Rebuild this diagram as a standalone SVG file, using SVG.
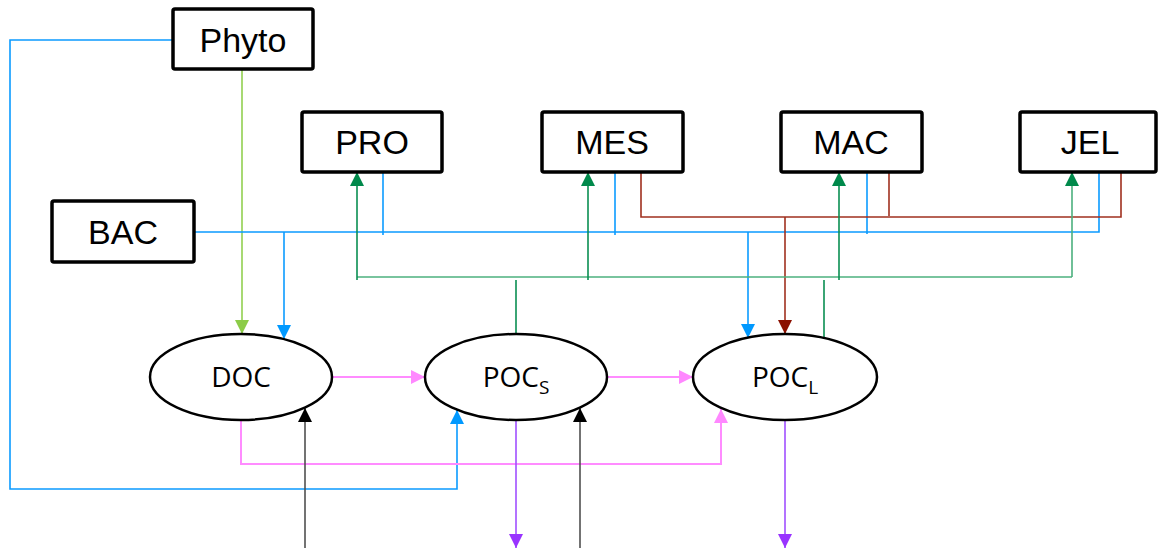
<svg xmlns="http://www.w3.org/2000/svg" width="1158" height="548" viewBox="0 0 1158 548">
<style>
.box{fill:#fff;stroke:#000;stroke-width:3.5}
.ell{fill:#fff;stroke:#000;stroke-width:2.5}
.bt{font-family:"Liberation Sans",Arial,sans-serif;font-size:34px;fill:#000;text-anchor:middle}
.et{font-family:"Open Sans","Noto Sans",sans-serif;font-size:28px;fill:#000;text-anchor:middle}
.c{fill:none;stroke-width:1.6}
.blue{stroke:#0B9BFF}
.lgreen{stroke:#92D050}
.green{stroke:#0A8F52}
.lgr{stroke:#4CB07E}
.red{stroke:#A0301F}
.pink{stroke:#FF8CFF;stroke-width:2}
.purple{stroke:#A050FF}
.black{stroke:#505050}
</style>
<defs>
<marker id="aBlue" markerUnits="userSpaceOnUse" markerWidth="14" markerHeight="14" viewBox="0 0 14 14" refX="14" refY="7" orient="auto"><path d="M0,0 L14,7 L0,14 Z" fill="#0099FF"/></marker>
<marker id="aLgreen" markerUnits="userSpaceOnUse" markerWidth="14" markerHeight="14" viewBox="0 0 14 14" refX="14" refY="7" orient="auto"><path d="M0,0 L14,7 L0,14 Z" fill="#8CCC48"/></marker>
<marker id="aGreen" markerUnits="userSpaceOnUse" markerWidth="14" markerHeight="14" viewBox="0 0 14 14" refX="14" refY="7" orient="auto"><path d="M0,0 L14,7 L0,14 Z" fill="#00894B"/></marker>
<marker id="aRed" markerUnits="userSpaceOnUse" markerWidth="14" markerHeight="14" viewBox="0 0 14 14" refX="14" refY="7" orient="auto"><path d="M0,0 L14,7 L0,14 Z" fill="#8B1000"/></marker>
<marker id="aPink" markerUnits="userSpaceOnUse" markerWidth="14" markerHeight="14" viewBox="0 0 14 14" refX="14" refY="7" orient="auto"><path d="M0,0 L14,7 L0,14 Z" fill="#FF88FF"/></marker>
<marker id="aPurple" markerUnits="userSpaceOnUse" markerWidth="14" markerHeight="14" viewBox="0 0 14 14" refX="14" refY="7" orient="auto"><path d="M0,0 L14,7 L0,14 Z" fill="#9933FF"/></marker>
<marker id="aBlack" markerUnits="userSpaceOnUse" markerWidth="14" markerHeight="14" viewBox="0 0 14 14" refX="14" refY="7" orient="auto"><path d="M0,0 L14,7 L0,14 Z" fill="#000"/></marker>
</defs>

<g id="connectors">
<path class="c lgreen" d="M242,69 V334" marker-end="url(#aLgreen)"/>
<path class="c blue" d="M173,40 H10 V489 H457 V410" marker-end="url(#aBlue)"/>
<path class="c blue" d="M194,232 H1099 V172"/>
<path class="c blue" d="M383,172 V235"/>
<path class="c blue" d="M615,172 V235"/>
<path class="c blue" d="M867,172 V234"/>
<path class="c blue" d="M284,232 V339" marker-end="url(#aBlue)"/>
<path class="c blue" d="M748,232 V338" marker-end="url(#aBlue)"/>
<path class="c red" d="M641,172 V217 H1121 V172"/>
<path class="c red" d="M889,172 V216"/>
<path class="c red" d="M785,217 V334" marker-end="url(#aRed)"/>
<path class="c lgr" d="M357,277 H1072"/>
<path class="c green" d="M357,280 V172" marker-end="url(#aGreen)"/>
<path class="c green" d="M588,280 V172" marker-end="url(#aGreen)"/>
<path class="c green" d="M839,280 V172" marker-end="url(#aGreen)"/>
<path class="c lgr" d="M1072,277 V180"/>
<path class="c green" d="M1072,185 V172" marker-end="url(#aGreen)"/>
<path class="c green" d="M516,280 V334"/>
<path class="c green" d="M824,280 V339"/>
<path class="c pink" d="M333,377 H425" marker-end="url(#aPink)"/>
<path class="c pink" d="M608,377 H693" marker-end="url(#aPink)"/>
<path class="c pink" d="M241,420 V464 H721 V409" marker-end="url(#aPink)"/>
<path class="c black" d="M305,548 V408" marker-end="url(#aBlack)"/>
<path class="c black" d="M580,548 V408" marker-end="url(#aBlack)"/>
<path class="c purple" d="M516,420 V548" marker-end="url(#aPurple)"/>
<path class="c purple" d="M785,420 V548" marker-end="url(#aPurple)"/>
</g>

<g id="Phyto"><rect class="box" x="173" y="9" width="140" height="60" rx="2"/><text class="bt" x="243" y="52">Phyto</text></g>
<g id="PRO"><rect class="box" x="302" y="112" width="140" height="60" rx="2"/><text class="bt" x="372" y="154">PRO</text></g>
<g id="MES"><rect class="box" x="542" y="112" width="141" height="60" rx="2"/><text class="bt" x="612" y="154">MES</text></g>
<g id="MAC"><rect class="box" x="781" y="112" width="141" height="60" rx="2"/><text class="bt" x="851" y="154">MAC</text></g>
<g id="JEL"><rect class="box" x="1020" y="112" width="136" height="60" rx="2"/><text class="bt" x="1090" y="154">JEL</text></g>
<g id="BAC"><rect class="box" x="52" y="201" width="142" height="61" rx="2"/><text class="bt" x="123" y="244">BAC</text></g>

<g id="DOC"><ellipse class="ell" cx="241" cy="377" rx="91" ry="43"/><text class="et" x="241" y="387">DOC</text></g>
<g id="POC_S"><ellipse class="ell" cx="516" cy="377" rx="91" ry="43"/><text class="et" x="516" y="387">POC<tspan font-size="19" dy="7">S</tspan></text></g>
<g id="POC_L"><ellipse class="ell" cx="785" cy="377" rx="92" ry="43"/><text class="et" x="785" y="387">POC<tspan font-size="19" dy="7">L</tspan></text></g>
</svg>
